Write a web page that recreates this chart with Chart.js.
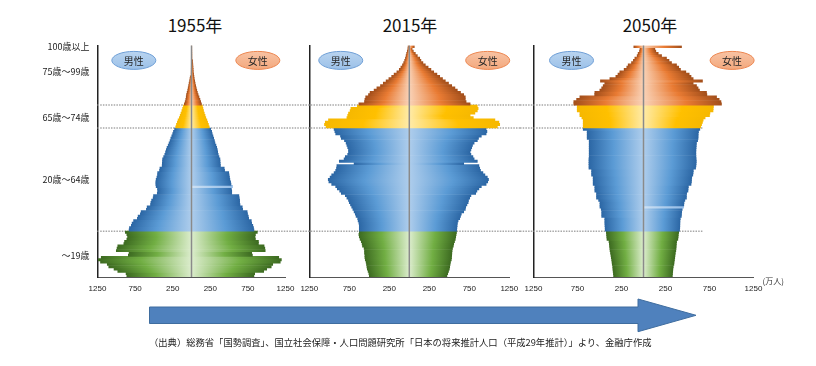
<!DOCTYPE html>
<html>
<head>
<meta charset="utf-8">
<script src="https://cdn.jsdelivr.net/npm/chart.js@4.4.1/dist/chart.umd.min.js"></script>
<style>
  body { margin:0; width:816px; height:366px; background:#fff; position:relative; overflow:hidden;
         font-family:"Noto Sans CJK JP", sans-serif; }
  canvas { position:absolute; top:0; }
  .title { position:absolute; top:12px; font-size:17px; line-height:26px; color:#111; transform:translateX(-50%); white-space:nowrap; }
  .note { position:absolute; left:149px; top:335px; font-size:9.3px; line-height:14px; color:#222; white-space:nowrap; }
  svg { position:absolute; left:0; top:0; }
</style>
</head>
<body>
<div class="title" style="left:195px">1955年</div>
<div class="title" style="left:410px">2015年</div>
<div class="title" style="left:650px">2050年</div>

<canvas id="c1955" width="300" height="300" style="left:0"></canvas>
<canvas id="c2015" width="220" height="300" style="left:300px"></canvas>
<canvas id="c2050" width="296" height="300" style="left:520px"></canvas>

<svg width="816" height="366">
  <polygon points="149.5,307 638,307 638,299 696,315.3 638,331.7 638,323.5 149.5,323.5"
           fill="#4f81bd" stroke="#3f6d9f" stroke-width="1"/>
</svg>
<div class="note">（出典）総務省「国勢調査」、国立社会保障・人口問題研究所「日本の将来推計人口（平成29年推計）」より、金融庁作成</div>

<script>
// 年齢 0〜100（100 = 100歳以上）、単位：千人
const AGES = Array.from({ length: 101 }, (_, i) => i);

const MALE_1955 = [
  860, 870, 980, 1030, 1100, 1120, 1210, 1240, 1200, 840,
  830, 1000, 990, 980, 900, 890, 860, 850, 860, 880,
  830, 825, 800, 790, 770, 720, 710, 680, 670, 600,
  590, 545, 540, 530, 510, 505, 455, 450, 452, 470,
  475, 475, 470, 460, 452, 450, 425, 420, 390, 388,
  386, 384, 370, 355, 345, 335, 325, 310, 298, 285,
  275, 262, 250, 240, 225, 210, 200, 188, 178, 162,
  150, 140, 128, 118, 108, 95, 84, 76, 70, 66,
  58, 50, 44, 38, 32, 25, 20, 16, 12, 9,
  6, 5, 3, 2, 2, 1, 1, 1, 0, 0, 0
];
const FEMALE_1955 = [
  830, 840, 960, 1000, 1060, 1080, 1180, 1195, 1160, 810,
  800, 980, 975, 965, 890, 890, 850, 845, 850, 875,
  830, 825, 815, 800, 795, 760, 755, 745, 740, 680,
  675, 645, 640, 640, 635, 630, 535, 535, 530, 545,
  525, 520, 510, 505, 500, 495, 440, 435, 385, 382,
  380, 378, 365, 355, 348, 343, 335, 325, 312, 305,
  295, 285, 275, 268, 255, 236, 225, 214, 204, 190,
  180, 170, 160, 152, 145, 132, 122, 112, 100, 88,
  78, 70, 62, 55, 48, 42, 36, 32, 28, 24,
  22, 20, 18, 16, 15, 13, 12, 10, 8, 6, 5
];

const MALE_2015 = [
  500, 505, 515, 525, 530, 535, 540, 550, 555, 555,
  560, 560, 565, 585, 590, 600, 615, 625, 630, 625,
  625, 625, 625, 630, 640, 645, 665, 675, 690, 705,
  720, 735, 750, 760, 780, 800, 850, 870, 900, 920,
  970, 1005, 1013, 990, 970, 940, 920, 910, 905, 690,
  875, 815, 800, 770, 760, 760, 770, 780, 790, 810,
  850, 860, 920, 930, 940, 1040, 1060, 1050, 1010, 780,
  770, 760, 740, 730, 650, 630, 560, 555, 545, 510,
  490, 440, 405, 360, 325, 290, 255, 220, 190, 155,
  125, 105, 85, 70, 58, 48, 40, 33, 25, 18, 15
];
const FEMALE_2015 = [
  470, 480, 490, 500, 505, 510, 515, 525, 528, 530,
  532, 535, 540, 550, 555, 565, 575, 580, 585, 590,
  592, 595, 598, 602, 610, 630, 640, 650, 680, 700,
  705, 720, 735, 740, 755, 770, 830, 845, 870, 900,
  960, 980, 990, 975, 945, 920, 890, 880, 870, 680,
  850, 810, 795, 770, 760, 770, 780, 790, 810, 850,
  865, 900, 960, 970, 960, 1100, 1130, 1120, 1070, 800,
  760, 820, 850, 860, 850, 760, 710, 700, 700, 680,
  640, 600, 570, 530, 490, 450, 415, 380, 345, 305,
  270, 235, 200, 170, 145, 130, 100, 75, 50, 35, 62
];

const MALE_2050 = [
  340, 342, 345, 348, 350, 355, 358, 362, 366, 370,
  375, 380, 383, 386, 388, 392, 415, 418, 420, 422,
  435, 436, 438, 440, 440, 440, 475, 475, 475, 480,
  495, 495, 495, 510, 534, 534, 534, 553, 553, 553,
  572, 572, 572, 572, 590, 590, 590, 620, 620, 620,
  620, 620, 617, 617, 617, 617, 617, 617, 617, 617,
  640, 640, 640, 640, 685, 685, 685, 685, 685, 700,
  723, 723, 753, 753, 753, 792, 792, 760, 723, 555,
  553, 496, 475, 458, 440, 489, 382, 314, 290, 269,
  220, 190, 174, 136, 115, 98, 72, 61, 45, 40, 110
];
const FEMALE_2050 = [
  328, 330, 332, 334, 338, 345, 348, 352, 355, 358,
  362, 367, 370, 372, 374, 376, 390, 394, 396, 400,
  410, 412, 413, 414, 415, 418, 430, 432, 434, 440,
  455, 458, 460, 470, 488, 488, 490, 505, 507, 510,
  540, 545, 546, 548, 560, 564, 566, 592, 596, 598,
  600, 598, 596, 595, 595, 596, 598, 600, 602, 615,
  620, 621, 622, 625, 640, 650, 660, 670, 678, 700,
  750, 755, 790, 792, 795, 886, 880, 860, 830, 720,
  716, 636, 620, 602, 564, 670, 564, 540, 519, 481,
  420, 400, 375, 318, 290, 261, 205, 167, 140, 129, 432
];

const X_TICKS = [-1250, -750, -250, 250, 750, 1250];
const AGE_LABELS = { 100: '100歳以上', 89: '75歳～99歳', 69: '65歳～74歳', 42: '20歳～64歳', 9: '～19歳' };
const BOUNDS = [20, 65, 75];           // 区切りの点線（この年齢の下端）

// center -> mid -> edge
const PAL = {
  young:  ['#dcedcd', '#71ae43', '#3d6b21'],
  work:   ['#aecdec', '#5b9bd5', '#2c67a5'],
  old:    ['#ffeba8', '#ffc000', '#f6b800'],
  oldest: ['#f9d2b7', '#e97b33', '#a34f1b'],
  light:  ['#cfe2f4', '#acccec', '#93bbe6']
};
function groupOf(age) {
  if (age < 20) return 'young';
  if (age < 65) return 'work';
  if (age < 75) return 'old';
  return 'oldest';
}

function barFill(stripeAge) {
  return (c) => {
    if (c.type !== 'data') return PAL.work[1];
    const pal = c.dataIndex === stripeAge ? PAL.light : PAL[groupOf(c.dataIndex)];
    const chart = c.chart;
    if (!chart.chartArea) return pal[1];
    const xs = chart.scales.x;
    const x0 = xs.getPixelForValue(0), x1 = xs.getPixelForValue(c.raw);
    if (Math.abs(x1 - x0) < 1) return pal[0];
    const g = chart.ctx.createLinearGradient(x0, 0, x1, 0);
    g.addColorStop(0, pal[0]);
    g.addColorStop(0.55, pal[1]);
    g.addColorStop(1, pal[2]);
    return g;
  };
}

const decor = {
  id: 'decor',
  beforeDatasetsDraw(chart, args, o) {
    const { ctx, chartArea, scales: { x, y } } = chart;
    const from = o.fromArea ? chartArea.left : 0;
    const to = o.lineTo === undefined ? chart.width : x.getPixelForValue(o.lineTo);
    ctx.save();
    ctx.strokeStyle = '#a8a8a8';
    ctx.lineWidth = 1.5;
    ctx.setLineDash([1.5, 1.2]);
    BOUNDS.forEach(b => {
      const py = (y.getPixelForValue(b - 1) + y.getPixelForValue(b)) / 2;
      ctx.beginPath(); ctx.moveTo(from, py); ctx.lineTo(to, py); ctx.stroke();
    });
    ctx.restore();
  },
  afterDatasetsDraw(chart, args, o) {
    const { ctx, chartArea, scales: { x, y } } = chart;
    ctx.save();
    // 中心線
    const cx = x.getPixelForValue(0);
    ctx.strokeStyle = '#8a8a8a';
    ctx.lineWidth = 1.5;
    ctx.beginPath(); ctx.moveTo(cx, chartArea.top); ctx.lineTo(cx, chartArea.bottom); ctx.stroke();

    // 男性・女性の楕円
    (o.tags || []).forEach(t => {
      const px = x.getPixelForValue(t.x), py = y.getPixelForValue(t.age);
      const male = t.text === '男性';
      ctx.beginPath();
      ctx.ellipse(px, py, 22, 9, 0, 0, Math.PI * 2);
      const g = ctx.createLinearGradient(0, py - 9, 0, py + 9);
      g.addColorStop(0, male ? '#b9d4f0' : '#f8c3a4');
      g.addColorStop(1, male ? '#9cc1e8' : '#f3a87d');
      ctx.fillStyle = g;
      ctx.fill();
      ctx.lineWidth = 1;
      ctx.strokeStyle = male ? '#6f9fd6' : '#ec8650';
      ctx.stroke();
      ctx.fillStyle = '#262626';
      ctx.font = '10px "Noto Sans CJK JP"';
      ctx.textAlign = 'center';
      ctx.textBaseline = 'middle';
      ctx.fillText(t.text, px, py + 0.5);
    });

    if (o.unit) {
      ctx.fillStyle = '#333';
      ctx.font = '8px "Noto Sans CJK JP"';
      ctx.textAlign = 'left';
      ctx.textBaseline = 'middle';
      ctx.fillText('(万人)', chartArea.right + 9, chartArea.bottom + 4);
    }
    ctx.restore();
  }
};

function pyramid(id, male, female, p) {
  return new Chart(document.getElementById(id), {
    type: 'bar',
    data: {
      labels: AGES,
      datasets: [
        { label: '男性', data: male.map(v => -v), backgroundColor: barFill(-1),
          borderWidth: 0, barPercentage: 1, categoryPercentage: 1 },
        { label: '女性', data: female, backgroundColor: barFill(p.stripe),
          borderWidth: 0, barPercentage: 1, categoryPercentage: 1 }
      ]
    },
    options: {
      indexAxis: 'y',
      responsive: false,
      animation: false,
      events: [],
      layout: { padding: { left: 0, right: p.padR, top: 45.5, bottom: 0 } },
      scales: {
        x: {
          stacked: true, min: -1250, max: 1250,
          grid: { display: false, drawTicks: false },
          border: { color: '#555', width: 1 },
          afterBuildTicks: s => { s.ticks = X_TICKS.map(v => ({ value: v })); },
          afterFit: s => { s.height = 23; s.paddingLeft = 0; s.paddingRight = 0; },
          ticks: {
            autoSkip: false, maxRotation: 0, padding: 7, color: '#222',
            font: { family: '"Liberation Sans Narrow", "Liberation Sans", sans-serif', size: 8 },
            callback: v => Math.abs(v)
          }
        },
        y: {
          stacked: true, reverse: true,
          grid: { display: false, drawTicks: false },
          border: { color: '#222', width: 1.5 },
          afterFit: s => { s.width = p.yW; s.paddingTop = 0; s.paddingBottom = 0; },
          ticks: {
            display: !!p.labels, autoSkip: false, padding: 8, color: '#222',
            font: { family: '"Noto Sans CJK JP"', size: 9 },
            callback: (v, i) => AGE_LABELS[i] || ''
          }
        }
      },
      plugins: {
        legend: { display: false },
        tooltip: { enabled: false },
        decor: { fromArea: p.fromArea, lineTo: p.lineTo, tags: p.tags, unit: p.unit }
      }
    },
    plugins: [decor]
  });
}

pyramid('c1955', MALE_1955, FEMALE_1955, {
  yW: 97.5, padR: 14.5, labels: true, fromArea: true, stripe: 39,
  tags: [{ text: '男性', x: -767, age: 94 }, { text: '女性', x: 882, age: 94 }]
});
pyramid('c2015', MALE_2015, FEMALE_2015, {
  yW: 9.3, padR: 10.7, stripe: -1,
  tags: [{ text: '男性', x: -857, age: 94 }, { text: '女性', x: 980, age: 94 }]
});
pyramid('c2050', MALE_2050, FEMALE_2050, {
  yW: 13.5, padR: 62.5, lineTo: 675, unit: true, stripe: 30,
  tags: [{ text: '男性', x: -818, age: 94 }, { text: '女性', x: 1007, age: 94 }]
});
</script>
</body>
</html>
